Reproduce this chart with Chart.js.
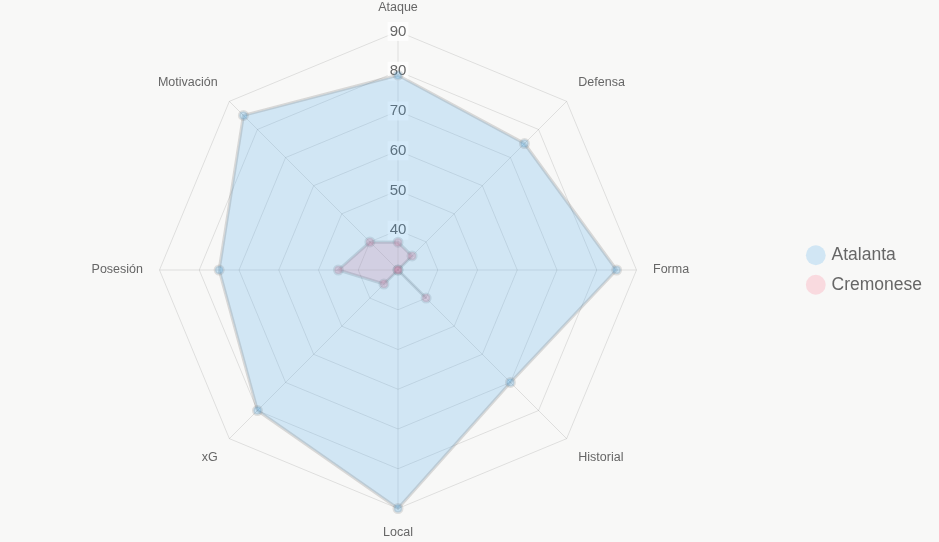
<!DOCTYPE html>
<html>
<head>
<meta charset="utf-8">
<script src="https://cdn.jsdelivr.net/npm/chart.js@4/dist/chart.umd.min.js"></script>
<style>
  html, body { margin: 0; padding: 0; background: #f8f8f7; }
  #wrap { width: 939px; height: 542px; }
</style>
</head>
<body>
<div id="wrap"><canvas id="radar"></canvas></div>
<script>
'use strict'

const categorias = ['Ataque', 'Defensa', 'Forma', 'Historial', 'Local', 'xG', 'Posesión', 'Motivación'];
const atalanta = [79, 75, 85, 70, 90, 80, 75, 85];
const cremonese = [37, 35, 30, 40, 30, 35, 45, 40];

const canvasRadar = document.querySelector('#radar');

const data = {
  labels: categorias,
  datasets: [{
    label: 'Atalanta',
    data: atalanta,
    backgroundColor: 'rgba(54, 162, 235, 0.2)',
    borderColor: 'rgba(120, 120, 120, 0.25)',
    borderWidth: 3,
    pointBackgroundColor: 'rgba(54, 162, 235, 0.25)',
    pointBorderColor: 'rgba(120, 120, 120, 0.2)',
    pointRadius: 4
  }, {
    label: 'Cremonese',
    data: cremonese,
    backgroundColor: 'rgba(255, 99, 132, 0.2)',
    borderColor: 'rgba(120, 120, 120, 0.25)',
    borderWidth: 3,
    pointBackgroundColor: 'rgba(255, 99, 132, 0.25)',
    pointBorderColor: 'rgba(120, 120, 120, 0.2)',
    pointRadius: 4
  }]
};

const config = {
  type: 'radar',
  data,
  options: {
    responsive: true,
    maintainAspectRatio: false,
    animation: false,
    layout: { padding: { top: 0, bottom: 2, left: 0, right: 7 } },
    plugins: {
      legend: {
        position: 'right',
        labels: {
          usePointStyle: true,
          pointStyle: 'circle',
          boxWidth: 14,
          boxHeight: 14,
          padding: 12,
          color: '#666',
          font: { family: 'Arial, Liberation Sans', size: 17.5 },
          generateLabels: (chart) => chart.data.datasets.map((ds, i) => ({
            text: ds.label,
            fillStyle: ds.backgroundColor,
            strokeStyle: 'rgba(0,0,0,0)',
            lineWidth: 0,
            pointStyle: 'circle',
            datasetIndex: i,
            fontColor: '#666'
          }))
        }
      },
      tooltip: { enabled: false }
    },
    scales: {
      r: {
        min: 30,
        max: 90,
        ticks: {
          stepSize: 10,
          color: '#666',
          font: { family: 'Arial, Liberation Sans', size: 15 },
          backdropColor: 'rgba(255,255,255,0.75)',
          backdropPadding: 2
        },
        grid: { color: 'rgba(0,0,0,0.1)' },
        angleLines: { color: 'rgba(0,0,0,0.1)' },
        pointLabels: {
          color: '#666',
          padding: 7,
          font: { family: 'Arial, Liberation Sans', size: 12.5 }
        }
      }
    }
  }
};

const graficoRadar = new Chart(canvasRadar, config);
</script>
</body>
</html>
